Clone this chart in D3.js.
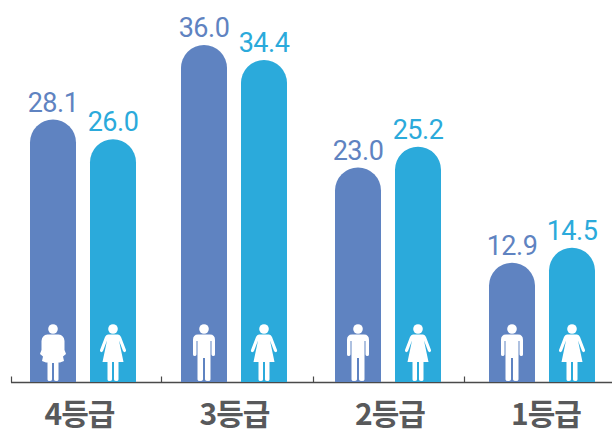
<!DOCTYPE html>
<html><head><meta charset="utf-8">
<style>html,body{margin:0;padding:0;background:#fff}svg{display:block}</style>
<script src="https://cdn.jsdelivr.net/npm/d3@7"></script></head>
<body><svg id="c" width="612" height="429"></svg>
<script>
const grades = ["4등급","3등급","2등급","1등급"];
const seriesA = [28.1,36.0,23.0,12.9];
const seriesB = [26.0,34.4,25.2,14.5];
const iconsA = ["w2","m","m","m"];
const colA = "#5f83c1", colB = "#2baadb", axisCol = "#4a4a4a", labelCol = "#58595b";

const svg = d3.select("#c");
const base = 382.5, barW = 46;
const y = d3.scaleLinear().domain([0,36]).range([384.5,45]);
const pair = d3.scaleOrdinal(grades,[83,234,388,542]);
const lab = d3.scaleOrdinal(grades,[79.5,234.5,390,546]);
const tick = d3.scaleOrdinal(grades,[11,161,313,464]);
const off = d3.scaleOrdinal(["A","B"],[-30,30]);

// axis
svg.append("g").attr("transform",`translate(0,${base})`)
  .call(d3.axisTop(tick).tickSize(6).tickFormat(""))
  .call(g=>{g.select(".domain").remove();g.selectAll("line").attr("stroke",axisCol).attr("stroke-width",1.2);});
svg.append("line").attr("x1",11).attr("x2",612).attr("y1",base).attr("y2",base).attr("stroke",axisCol).attr("stroke-width",1.4);

function barPath(cx,top){
  const r=barW/2, b=base-0.5;
  return `M${cx-r},${b}V${top+r}A${r},${r} 0 0 1 ${cx+r},${top+r}V${b}Z`;
}
const man="M-6,-46.5H6Q11,-46.5 11,-41V-26.5Q11,-25 9.3,-25Q7.7,-25 7.5,-26.5V-40H6.5V-1.5Q6.5,0 4,0Q1.2,0 1,-1.5V-23H-1V-1.5Q-1.2,0 -4,0Q-6.5,0 -6.5,-1.5V-40H-7.5V-26.5Q-7.7,-25 -9.3,-25Q-11,-25 -11,-26.5V-41Q-11,-46.5 -6,-46.5Z";
const woman="M-5,-46.5H5Q7,-46.5 8,-44L13,-31Q13.4,-29.3 12,-28.9Q10.8,-28.6 10,-30L6,-40.5L10.5,-19H5.5V-1.5Q5.5,0 3.5,0Q1,0 1,-1.5V-19H-1V-1.5Q-1,0 -3.5,0Q-5.5,0 -5.5,-1.5V-19H-10.5L-6,-40.5L-10,-30Q-10.8,-28.6 -12,-28.9Q-13.4,-29.3 -13,-31L-8,-44Q-7,-46.5 -5,-46.5Z";
const woman2="M-5.5,-46.5H5.5Q11,-46 11.5,-40V-34Q11,-31 12.5,-28.5L13,-27L10,-24.5L11,-20L7,-18.5H5.5V-1.5Q5.5,0 3.5,0Q1,0 1,-1.5V-18H-1V-1.5Q-1,0 -3.5,0Q-5.5,0 -5.5,-1.5V-18.5H-7L-11,-20L-10,-24.5L-13,-27L-12.5,-28.5Q-11,-31 -11.5,-34V-40Q-11,-46 -5.5,-46.5Z";
const icons={m:man,w:woman,w2:woman2};

function drawSeries(name,vals,col,ic){
  const g=svg.append("g");
  grades.forEach((d,i)=>{
    const cx=pair(d)+off(name), t=y(vals[i]);
    g.append("path").attr("d",barPath(cx,t)).attr("fill",col);
    const ig=g.append("g").attr("transform",`translate(${cx},381)`).attr("fill","#fff");
    ig.append("circle").attr("cy",-52).attr("r",4.8);
    ig.append("path").attr("d",icons[ic[i]]);
    g.append("text").attr("x",cx).attr("y",t-8).attr("text-anchor","middle")
      .attr("font-family","Roboto").attr("font-size",27).attr("letter-spacing",-0.5).attr("fill",col).text(vals[i].toFixed(1));
  });
}
drawSeries("A",seriesA,colA,iconsA);
drawSeries("B",seriesB,colB,grades.map(()=> "w"));

svg.append("g").selectAll("text").data(grades).join("text")
  .attr("x",d=>lab(d)).attr("y",425).attr("text-anchor","middle")
  .attr("font-family","'Noto Sans CJK KR'").attr("font-weight",700).attr("font-size",30).attr("letter-spacing",-1)
  .attr("fill",labelCol).text(d=>d);
</script></body></html>
